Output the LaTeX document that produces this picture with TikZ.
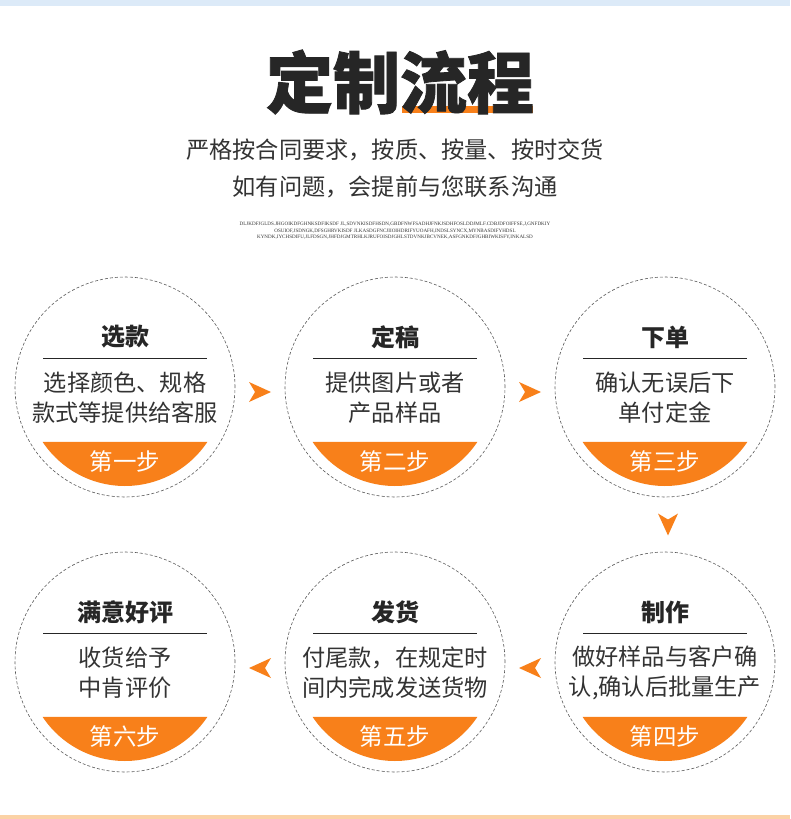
\documentclass[tikz,border=0pt]{standalone}
\usepackage{fontspec}
\setmainfont{Noto Sans CJK SC}
\newfontfamily\titlefont[BoldFeatures={FakeBold=1.2}]{Noto Sans CJK SC}
\newfontfamily\finefont{Liberation Serif}
\usepackage{tikz}
\usetikzlibrary{decorations.markings,calc}
\definecolor{StepOrange}{HTML}{F8801A}
\definecolor{TextDark}{HTML}{262626}
\definecolor{TextBody}{HTML}{333333}
\definecolor{RingGrey}{HTML}{5A5A5A}
\definecolor{TopBlue}{HTML}{DCEAF8}
\definecolor{BottomPeach}{HTML}{FBD2A6}

\begin{document}
\begin{tikzpicture}[
            x=1pt, y=-1pt,
            ring/.style={circle, draw=RingGrey, dash pattern=on 3pt off 2pt, line width=0.6pt, minimum size=220pt, inner sep=0pt},
            head/.style={font=\fontsize{24}{28}\selectfont\bfseries, text=TextDark, inner sep=0pt},
            body/.style={font=\fontsize{23.2}{30}\selectfont, text=TextBody, align=center, inner sep=0pt},
            steplabel/.style={font=\fontsize{23.5}{28}\selectfont, text=white, inner sep=0pt},
            rule/.style={draw=TextDark, line width=0.8pt},
            subline/.style={font=\fontsize{23.2}{26}\selectfont, text=TextBody, inner sep=0pt},
            fineprint/.style={font=\finefont\fontsize{5.1}{6.6}\selectfont, text=TextBody, align=center, inner sep=0pt},
            arrowmark/.style={decoration={markings, mark=at position 0.5 with {\fill[StepOrange, shift={(0pt,#1)}] (11pt,0pt) -- (-11pt,10pt) -- (-5pt,0pt) -- (-11pt,-10pt) -- cycle;}}, postaction={decorate}},
            arrowmark/.default=0pt,
        ]
        \useasboundingbox (0,0) rectangle (790,819);
        \fill[white] (0,0) rectangle (790,819);
        \fill[TopBlue] (0,0) rectangle (790,6);
        \fill[BottomPeach] (0,815) rectangle (790,819);

        % title
        \fill[StepOrange] (402,106) rectangle (533,113);
        \node[font=\titlefont\fontsize{67}{70}\selectfont\bfseries, text=TextDark, inner sep=0pt] (title) at (400,82) {定制流程};
        \node[subline] (sub1) at (395,150) {严格按合同要求，按质、按量、按时交货};
        \node[subline] (sub2) at (395,187) {如有问题，会提前与您联系沟通};
        \node[fineprint] (noise) at (395,231) {DLJKDFJGLDS.JHGOIKDFGHNKSDFIKSDF JL,SDVNKISDFHSDN,GBDFNWFSADHJFNKJSDHFOSLDDJMLF.CDBJDFOIFFSE,J,GNFDKIY\\OSUIOF,JSDNGK,DFSGHRVKISDF JLKASDGFNCJIIOIHDRIFYUOAFH,INDSLSYNCX,MYNBASDIFYHDSL\\KYNDK,IYCHSDIFU,JLFDSGN,JHFDJGMTRHLKJRUFOISDJGHLSTDVNKJBCVNEK,ASFGNKDFJGHBIWKISFY,INKALSD};

        % the six steps
        \node[ring] (s1) at (125,387) {};
        \node[ring] (s2) at (395,387) {};
        \node[ring] (s3) at (665,387) {};
        \node[ring] (s4) at (665,662) {};
        \node[ring] (s5) at (395,662) {};
        \node[ring] (s6) at (125,662) {};

        \foreach \s in {s1,s2,s3,s4,s5,s6} {
            \fill[StepOrange] ([shift={(-146.3:99pt)}]\s.center) arc[start angle=-146.3, end angle=-33.7, radius=99pt] -- cycle;
            \draw[rule] ([shift={(-82pt,29pt)}]\s.center) -- ([shift={(82pt,29pt)}]\s.center);
        }

        \node[head] (s1h) at ([yshift=50pt]s1.center) {选款};
        \node[body] (s1b) at ([yshift=-11pt]s1.center) {选择颜色、规格\\款式等提供给客服};
        \node[steplabel] (s1l) at ([yshift=-75pt]s1.center) {第一步};

        \node[head] (s2h) at ([yshift=50pt]s2.center) {定稿};
        \node[body] (s2b) at ([yshift=-11pt]s2.center) {提供图片或者\\产品样品};
        \node[steplabel] (s2l) at ([yshift=-75pt]s2.center) {第二步};

        \node[head] (s3h) at ([yshift=50pt]s3.center) {下单};
        \node[body] (s3b) at ([yshift=-11pt]s3.center) {确认无误后下\\单付定金};
        \node[steplabel] (s3l) at ([yshift=-75pt]s3.center) {第三步};

        \node[head] (s4h) at ([yshift=50pt]s4.center) {制作};
        \node[body] (s4b) at ([yshift=-11pt]s4.center) {做好样品与客户确\\认,确认后批量生产};
        \node[steplabel] (s4l) at ([yshift=-75pt]s4.center) {第四步};

        \node[head] (s5h) at ([yshift=50pt]s5.center) {发货};
        \node[body] (s5b) at ([yshift=-11pt]s5.center) {付尾款，在规定时\\间内完成发送货物};
        \node[steplabel] (s5l) at ([yshift=-75pt]s5.center) {第五步};

        \node[head] (s6h) at ([yshift=50pt]s6.center) {满意好评};
        \node[body] (s6b) at ([yshift=-11pt]s6.center) {收货给予\\中肯评价};
        \node[steplabel] (s6l) at ([yshift=-75pt]s6.center) {第六步};

        % arrows between steps
        \path[arrowmark=-5pt] (s1) -- (s2);
        \path[arrowmark=-5pt] (s2) -- (s3);
        \path[arrowmark=3pt] (s3) -- (s4);
        \path[arrowmark=6pt] (s4) -- (s5);
        \path[arrowmark=6pt] (s5) -- (s6);
    \end{tikzpicture}
\end{document}
